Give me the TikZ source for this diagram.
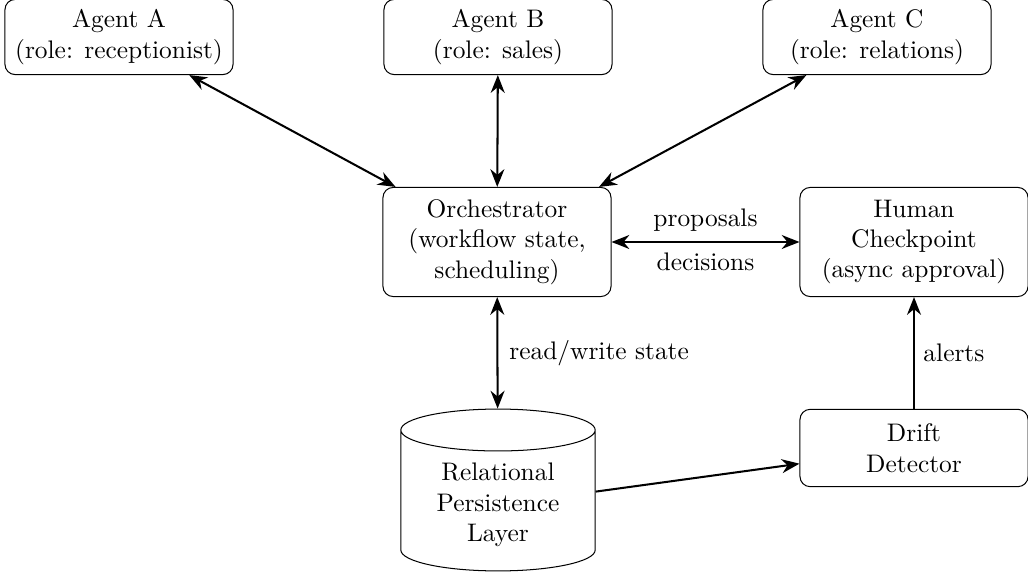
\documentclass[tikz,border=0pt]{standalone}
\usetikzlibrary{arrows.meta,shapes.geometric}
\begin{document}
\begin{tikzpicture}[x=0.01384cm,y=-0.01384cm,line width=0.4pt,
  box/.style={draw,rounded corners=4pt,align=center,minimum width=3.156cm},
  link/.style={thick,{Stealth[length=7pt,width=5.5pt]}-{Stealth[length=7pt,width=5.5pt]}},
  feed/.style={thick,-{Stealth[length=7pt,width=5.5pt]}}]
\useasboundingbox (0,0) rectangle (1028,576);
\node[box,minimum height=1.04cm] (A) at (119,37) {Agent A\\(role: receptionist)};
\node[box,minimum height=1.04cm] (B) at (498,37) {Agent B\\(role: sales)};
\node[box,minimum height=1.04cm] (C) at (877,37) {Agent C\\(role: relations)};
\node[box,minimum height=1.51cm] (O) at (497,242) {Orchestrator\\(workflow state,\\scheduling)};
\node[box,minimum height=1.51cm] (H) at (914,242) {Human\\Checkpoint\\(async approval)};
\node[box,minimum height=1.07cm] (D) at (914,448) {Drift\\Detector};
\node[draw,cylinder,shape border rotate=90,aspect=0.3,align=center,
  minimum width=2.69cm,minimum height=2.24cm] (P) at (498,505) {Relational\\Persistence\\Layer};
\draw[link] (A) -- (O);
\draw[link] (B) -- (O);
\draw[link] (C) -- (O);
\draw[link] (O) -- node[above=0.5pt]{proposals} node[below=0.5pt]{decisions} (H);
\draw[link] (O) -- node[right=1pt]{read/write state} (P);
\draw[feed] (P) -- (D);
\draw[feed] (D) -- node[right=0pt]{alerts} (H);
\end{tikzpicture}
\end{document}
